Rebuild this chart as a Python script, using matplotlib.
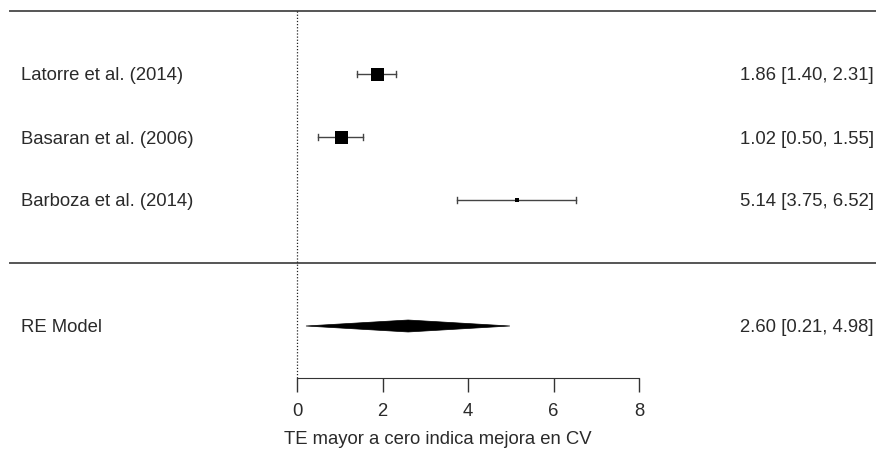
import matplotlib.pyplot as plt
from matplotlib.patches import Polygon

plt.rcParams['font.family'] = ['Liberation Sans', 'DejaVu Sans']

# Estudios y efectos (TE con IC 95%)
estudios = ['Latorre et al. (2014)', 'Basaran et al. (2006)', 'Barboza et al. (2014)']
te = [1.86, 1.02, 5.14]
ic_inf = [1.40, 0.50, 3.75]
ic_sup = [2.31, 1.55, 6.52]
filas = [5, 4, 3]

# Modelo de efectos aleatorios
re_te = 2.60
re_inf = 0.21
re_sup = 4.98
re_fila = 1

ticks = [0, 2, 4, 6, 8]

fs = 13.3
col_txt = '#2a2a2a'

fig = plt.figure(figsize=(8.76, 4.54), dpi=100)
ax = fig.add_axes([0, 0, 1, 1])
ax.set_xlim(-297 / 42.75, (876 - 297) / 42.75)
ax.set_ylim(1 - 128 / 63, 1 + 326 / 63)

linea_eje = 1 - (378 - 326) / 63
x_izq = (10 - 297) / 42.75
x_der = ax.get_xlim()[1]
x_texto = (874 - 297) / 42.75
x_nombre = (21 - 297) / 42.75

# lineas horizontales superior y separadora
ax.plot([x_izq, x_der], [6, 6], color='#555555', lw=1.4)
ax.plot([x_izq, x_der], [2, 2], color='#555555', lw=1.4)

# linea vertical de referencia en 0
ax.plot([0, 0], [6, linea_eje], color='#222222', lw=0.9, ls=(0, (1, 1.5)))

cap = 0.055
tam = [13, 13, 4.5]
for nombre, f, t, lo, hi, s in zip(estudios, filas, te, ic_inf, ic_sup, tam):
    ax.plot([lo, hi], [f, f], color='#444444', lw=1)
    ax.plot([lo, lo], [f - cap, f + cap], color='#444444', lw=1)
    ax.plot([hi, hi], [f - cap, f + cap], color='#444444', lw=1)
    ax.plot(t, f, marker='s', ms=s * 0.72, color='black', mec='black', mew=0)
    ax.text(x_nombre, f, nombre, ha='left', va='center_baseline', fontsize=fs, color=col_txt)
    ax.text(x_texto, f, f'{t:.2f} [{lo:.2f}, {hi:.2f}]', ha='right', va='center_baseline',
            fontsize=fs, color=col_txt)

# diamante del modelo RE
h = 0.095
diamante = Polygon([[re_inf, re_fila], [re_te, re_fila + h], [re_sup, re_fila], [re_te, re_fila - h]],
                   closed=True, facecolor='black', edgecolor='black', lw=0.5)
ax.add_patch(diamante)
ax.text(x_nombre, re_fila, 'RE Model', ha='left', va='center_baseline', fontsize=fs, color=col_txt)
ax.text(x_texto, re_fila, f'{re_te:.2f} [{re_inf:.2f}, {re_sup:.2f}]', ha='right',
        va='center_baseline', fontsize=fs, color=col_txt)

# eje x
for sp in ['top', 'right', 'left']:
    ax.spines[sp].set_visible(False)
ax.spines['bottom'].set_position(('data', linea_eje))
ax.spines['bottom'].set_bounds(0, 8)
ax.spines['bottom'].set_color('#333333')
ax.set_xticks(ticks)
ax.set_xticklabels([str(t) for t in ticks])
ax.tick_params(axis='x', length=10, width=1, color='#333333', labelsize=fs,
               labelcolor=col_txt, pad=8)
ax.set_yticks([])
ax.set_xlabel('TE mayor a cero indica mejora en CV', fontsize=fs, color=col_txt, labelpad=8)
ax.patch.set_visible(False)

fig.savefig('out.png', dpi=100)
